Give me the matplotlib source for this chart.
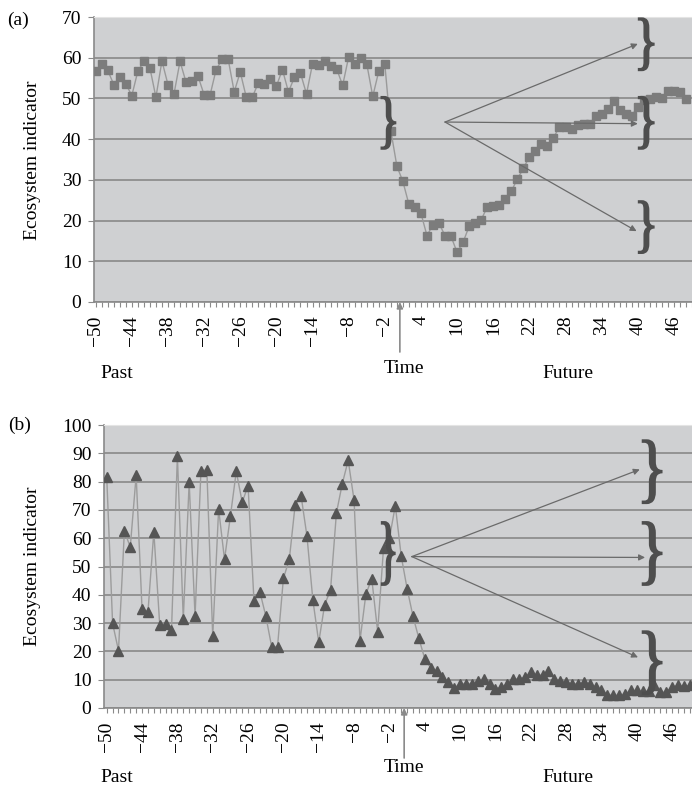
import matplotlib
matplotlib.use("Agg")
import matplotlib.pyplot as plt
from matplotlib.textpath import TextPath
from matplotlib.patches import PathPatch
from matplotlib.font_manager import FontProperties
from matplotlib.transforms import Affine2D, ScaledTranslation

plt.rcParams['font.family'] = ['Liberation Serif', 'DejaVu Serif']

W, H = 692, 786

# panel (a): slow decline then partial recovery
time_a = list(range(-50, 49))
indicator_a = [
    56.7, 58.4, 56.9, 53.4, 55.2, 53.6, 50.7, 56.7, 59.1, 57.5,
    50.3, 59.2, 53.4, 51.1, 59.1, 54.0, 54.4, 55.4, 50.9, 50.9,
    57.1, 59.6, 59.6, 51.6, 56.5, 50.3, 50.3, 53.8, 53.6, 54.8,
    53.0, 57.1, 51.6, 55.2, 56.2, 51.1, 58.5, 58.1, 59.2, 58.0,
    57.3, 53.2, 60.2, 58.5, 60.0, 58.5, 50.5, 56.7, 58.4, 42.1,
    33.4, 29.6, 24.0, 23.3, 21.8, 16.3, 19.0, 19.3, 16.3, 16.1,
    12.2, 14.7, 18.6, 19.4, 20.2, 23.3, 23.7, 23.9, 25.3, 27.2,
    30.2, 32.8, 35.7, 37.2, 38.8, 38.2, 40.3, 43.1, 43.0, 42.5,
    43.4, 43.6, 43.8, 45.6, 46.2, 47.5, 49.3, 47.2, 46.2, 45.8,
    48.0, 49.5, 49.9, 50.3, 50.2, 51.8, 51.8, 51.6, 49.9,
]

# panel (b): strong fluctuations then collapse
time_b = list(range(-50, 50))
indicator_b = [
    81.8, 29.9, 20.3, 62.5, 56.9, 82.2, 34.9, 33.8, 62.3, 29.4,
    29.7, 27.5, 89.1, 31.4, 79.7, 32.4, 83.8, 84.2, 25.3, 70.3,
    52.5, 67.8, 83.6, 72.7, 78.5, 37.9, 41.1, 32.6, 21.7, 21.7,
    45.8, 52.5, 71.9, 75.0, 60.7, 38.2, 23.2, 36.5, 41.7, 68.9,
    79.3, 87.5, 73.4, 23.8, 40.2, 45.7, 27.0, 56.6, 60.0, 71.5,
    53.7, 42.2, 32.4, 24.6, 17.4, 14.1, 12.9, 10.9, 9.1, 7.0,
    8.6, 8.6, 8.6, 9.7, 10.3, 8.6, 6.8, 7.4, 8.6, 10.3,
    10.3, 10.9, 12.7, 11.5, 11.7, 13.2, 10.3, 9.7, 9.1, 8.6,
    8.6, 9.1, 8.6, 7.4, 6.2, 4.7, 4.5, 4.5, 5.0, 6.2,
    6.2, 5.9, 5.9, 8.0, 5.6, 5.6, 7.4, 8.0, 7.7, 8.0,
]

tick_times = list(range(-50, 50, 6))
tick_labels = [str(t).replace('-', '\u2212') for t in tick_times]

# scenario arrows: start point and three end points (time, value)
arrow_start_a = (8.0, 44.2)
arrow_ends_a = [(40.0, 63.4), (40.0, 43.8), (39.8, 17.4)]
braces_a = [(41.4, 63.3), (41.4, 44.0), (41.4, 18.4)]
small_brace_a = (-1.4, 44.0)

arrow_start_b = (1.8, 53.5)
arrow_ends_b = [(40.5, 84.3), (41.4, 53.2), (40.2, 17.9)]
braces_b = [(42.6, 83.5), (42.6, 54.6), (42.6, 16.0)]
small_brace_b = (-2.2, 54.6)

BG = '#cfd0d2'
GRID = '#8e8e8e'
SPINE = '#8a8a8a'
FS = 14

brace_path = TextPath((0, 0), '}', size=100,
                      prop=FontProperties(family='Liberation Serif'))
bb = brace_path.get_extents()


def brace(ax, x, y, w_px, h_px):
    tr = (Affine2D().translate(-(bb.x0 + bb.x1) / 2, -(bb.y0 + bb.y1) / 2)
          .scale(w_px / bb.width, h_px / bb.height)
          + ScaledTranslation(x, y, ax.transData))
    ax.add_patch(PathPatch(brace_path, transform=tr, fc='#4e4e4e',
                           ec='#4e4e4e', lw=1.3, clip_on=False, zorder=6))


def px(x, y):
    return x / W, 1 - y / H


def setup(ax, ymax, xlim):
    ax.set_facecolor(BG)
    ax.set_xlim(*xlim)
    ax.set_ylim(0, ymax)
    ax.set_yticks(range(0, ymax + 1, 10))
    ax.yaxis.grid(True, color=GRID, lw=1.3)
    ax.set_axisbelow(True)
    ax.set_xticks(tick_times, tick_labels, rotation=90)
    ax.set_xticks(range(-50, 50), minor=True)
    ax.tick_params(axis='x', which='both', direction='out', length=3.5,
                   width=0.8, color=SPINE, pad=6, labelsize=FS)
    ax.tick_params(axis='y', direction='out', length=4, width=0.8,
                   color=SPINE, pad=5, labelsize=FS)
    for s in ['left', 'bottom']:
        ax.spines[s].set_color(SPINE)
        ax.spines[s].set_linewidth(1.2)
    ax.spines['top'].set_color('#e4e4e4')
    ax.spines['right'].set_visible(False)
    # arrow marking the present on the time axis
    ax.annotate('', xy=(0.5, 0), xycoords=('data', 'axes fraction'),
                xytext=(0, -36), textcoords='offset points',
                arrowprops=dict(arrowstyle='-|>', color='#8a8a8a', lw=1.2,
                                mutation_scale=9, shrinkA=0, shrinkB=0),
                annotation_clip=False)


def arrows(ax, start, ends):
    for e in ends:
        ax.annotate('', xy=e, xytext=start,
                    arrowprops=dict(arrowstyle='-|>', color='#6a6a6a', lw=0.9,
                                    mutation_scale=9, shrinkA=0, shrinkB=0),
                    zorder=5)


fig = plt.figure(figsize=(W / 100, H / 100), dpi=100)

# ---- panel (a)
l, b = px(94, 302)
_, t = px(94, 17)
ax1 = fig.add_axes([l, b, 1 - l, t - b])
setup(ax1, 70, (-50.28, 48.24))
ax1.plot(time_a, indicator_a, color='#9a9a9a', lw=1.0, marker='s',
         markersize=6, mfc='#7c7c7c', mec='#7c7c7c', zorder=3)
arrows(ax1, arrow_start_a, arrow_ends_a)
for x, y in braces_a:
    brace(ax1, x, y, 15, 52)
brace(ax1, small_brace_a[0], small_brace_a[1], 14, 52)

# ---- panel (b)
l, b = px(104, 708)
_, t = px(104, 425)
ax2 = fig.add_axes([l, b, 1 - l, t - b])
setup(ax2, 100, (-50.46, 49.37))
ax2.plot(time_b, indicator_b, color='#9c9c9c', lw=1.0, marker='^',
         markersize=6.5, mfc='#555555', mec='#555555', zorder=3)
arrows(ax2, arrow_start_b, arrow_ends_b)
for x, y in braces_b:
    brace(ax2, x, y, 19, 63)
brace(ax2, small_brace_b[0], small_brace_b[1], 13, 63)

# ---- labels
for lab, (x, y) in [('(a)', (18, 20)), ('(b)', (20, 425))]:
    fig.text(*px(x, y), lab, fontsize=FS, ha='center', va='center')
for y in [160, 566]:
    fig.text(*px(33, y), 'Ecosystem indicator', fontsize=FS, rotation=90,
             ha='center', va='center')
for y_pf, y_t in [(373, 369), (777, 768)]:
    fig.text(*px(100, y_pf), 'Past', fontsize=FS, ha='left', va='center')
    fig.text(*px(404, y_t), 'Time', fontsize=FS, ha='center', va='center')
    fig.text(*px(568, y_pf), 'Future', fontsize=FS, ha='center', va='center')

fig.savefig('out.png', dpi=100, facecolor='white')
